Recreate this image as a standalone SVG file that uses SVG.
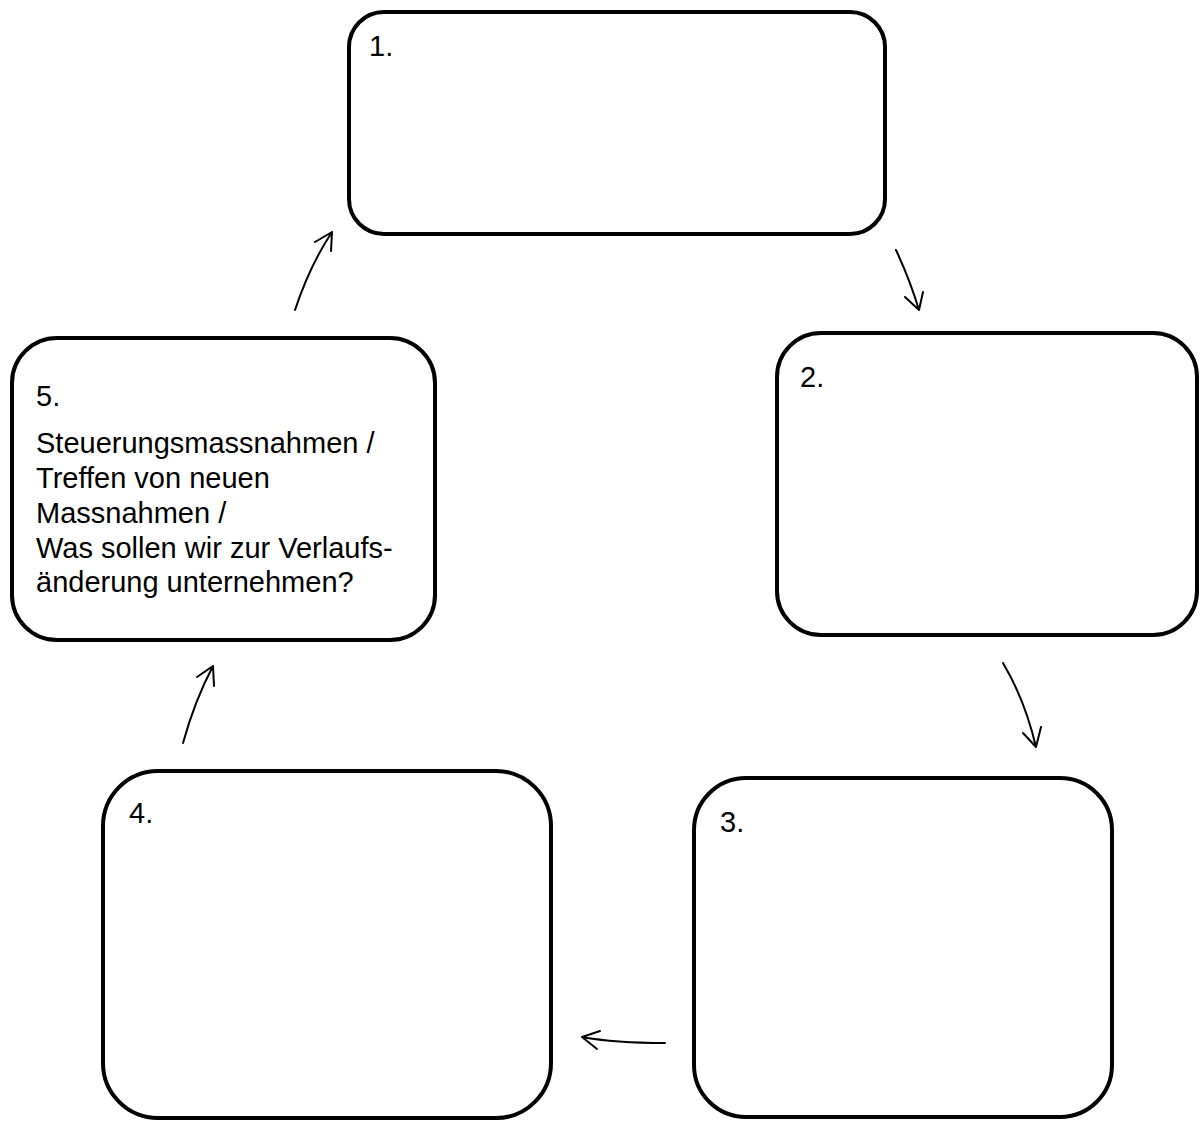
<svg xmlns="http://www.w3.org/2000/svg" width="1200" height="1121" viewBox="0 0 1200 1121">
<style>
.box{fill:#fff;stroke:#000;stroke-width:4}
.t{font-family:"Liberation Sans",Arial,sans-serif;font-size:29px;fill:#000}
.c{fill:none;stroke:#000;stroke-width:2;stroke-linecap:round;stroke-linejoin:round}
</style>
<rect width="1200" height="1121" fill="#fff"/>
<g id="node1"><rect class="box" x="349" y="12" width="536" height="222" rx="35"/><text class="t" x="369" y="56">1.</text></g>
<g id="node2"><rect class="box" x="777" y="333" width="420" height="302" rx="44"/><text class="t" x="800" y="387">2.</text></g>
<g id="node3"><rect class="box" x="694" y="778" width="418" height="339" rx="52"/><text class="t" x="720" y="832">3.</text></g>
<g id="node4"><rect class="box" x="103" y="771" width="448" height="347" rx="55"/><text class="t" x="129" y="823">4.</text></g>
<g id="node5"><rect class="box" x="12" y="338" width="423" height="302" rx="45"/>
<text class="t" x="36" y="406">5.</text>
<text class="t" x="36" y="453">Steuerungsmassnahmen /</text>
<text class="t" x="36" y="488">Treffen von neuen</text>
<text class="t" x="36" y="523">Massnahmen /</text>
<text class="t" x="36" y="558">Was sollen wir zur Verlaufs-</text>
<text class="t" x="36" y="592">änderung unternehmen?</text>
</g>
<g id="connectors">
<path class="c" d="M295,310 Q310,265 332,232 M315,242 L332,232 L331,251"/>
<path class="c" d="M896,250 Q910,280 919,310 M905,297 L919,310 L923,292"/>
<path class="c" d="M1003,663 Q1025,700 1036,747 M1023,733 L1036,747 L1041,727"/>
<path class="c" d="M665,1043 Q615,1043 582,1037 M600,1031 L582,1037 L597,1049"/>
<path class="c" d="M183,743 Q195,700 213,666 M197,677 L213,666 L214,686"/>
</g>
</svg>
